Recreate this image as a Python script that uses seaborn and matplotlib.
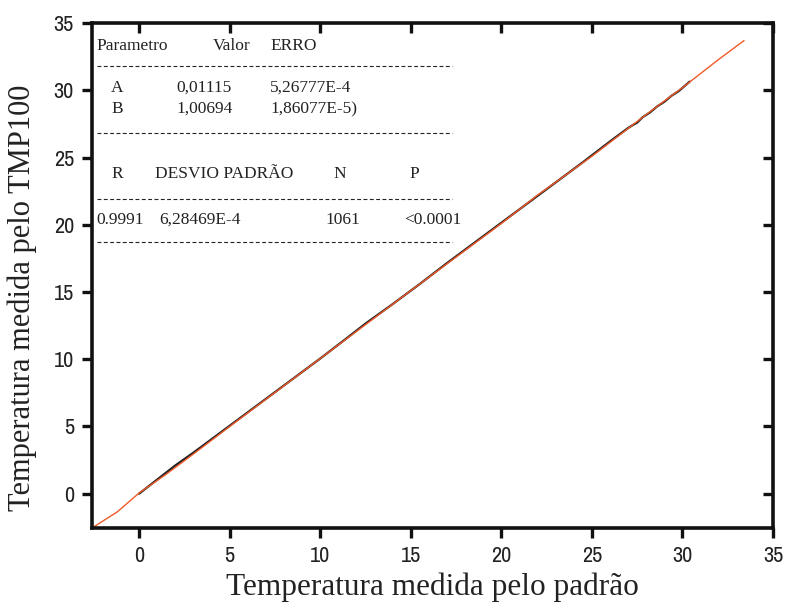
import numpy as np
import pandas as pd
import seaborn as sns
import matplotlib
matplotlib.use('Agg')
import matplotlib.pyplot as plt
from matplotlib import font_manager

medida_x = [0.0, 1.0, 2.0, 3.0, 4.0, 5.0, 6.5, 8.0, 10.0, 11.5, 12.5, 14.0, 15.5,
            17.0, 18.5, 20.0, 21.5, 23.0, 24.5, 26.0, 27.0, 27.3, 27.5, 27.8, 28.2,
            28.6, 29.0, 29.4, 29.8, 30.1, 30.4]
medida_y = [0.0, 1.05, 2.1, 3.05, 4.05, 5.05, 6.55, 8.05, 10.05, 11.6, 12.65, 14.1, 15.6,
            17.15, 18.65, 20.15, 21.65, 23.15, 24.65, 26.2, 27.2, 27.45, 27.6, 28.0, 28.35,
            28.8, 29.15, 29.6, 29.95, 30.3, 30.65]
ajuste_x = [-2.6, -1.2, 0.0, 1.5, 3.0, 5.0, 10.0, 15.0, 20.0, 22.0, 25.0, 28.0, 30.0, 32.0, 33.4]
ajuste_y = [-2.55, -1.35, 0.05, 1.45, 2.95, 5.0, 10.05, 15.1, 20.1, 22.2, 25.1, 28.2, 30.2, 32.3, 33.7]

xticks = [0, 5, 10, 15, 20, 25, 30, 35]
yticks = [0, 5, 10, 15, 20, 25, 30, 35]

sns.set_style("ticks")
serif = "Liberation Serif"
names = {f.name for f in font_manager.fontManager.ttflist}
tick_font = "Liberation Sans"
for cand in ["Liberation Sans Narrow", "Archivo Narrow", "Liberation Sans"]:
    if cand in names:
        tick_font = cand
        break
plt.rcParams['font.family'] = [serif, 'DejaVu Serif']

fig = plt.figure(figsize=(7.86, 6.08), dpi=100)
ax = fig.add_axes([0.117, 0.1316, 0.8665, 0.8304])

dados = pd.DataFrame({"x": medida_x, "y": medida_y})
fit = pd.DataFrame({"x": ajuste_x, "y": ajuste_y})
sns.lineplot(data=dados, x="x", y="y", ax=ax, color="#222222", linewidth=1.6,
             sort=False, estimator=None)
sns.lineplot(data=fit, x="x", y="y", ax=ax, color="#f05a28", linewidth=1.0,
             sort=False, estimator=None)

ax.set_xlim(-2.6, 35)
ax.set_ylim(-2.55, 35)
ax.set_xticks(xticks)
ax.set_yticks(yticks)
for s in ax.spines.values():
    s.set_visible(True)
    s.set_linewidth(2.6)
    s.set_color("#111111")
ax.tick_params(direction='out', length=7, width=2.4, color="#111111",
               labelsize=16, pad=6)
for lab in ax.get_xticklabels() + ax.get_yticklabels():
    lab.set_family(tick_font)
    lab.set_color("#222222")

top = ax.secondary_xaxis('top')
top.set_xticks(xticks)
top.tick_params(direction='in', length=7, width=2.4, labeltop=False, color="#111111")
right = ax.secondary_yaxis('right')
right.set_yticks(yticks)
right.tick_params(direction='in', length=7, width=2.4, labelright=False, color="#111111")

ax.set_xlabel("Temperatura medida pelo padrão", fontsize=22.5, color="#222222", labelpad=5)
ax.set_ylabel("Temperatura medida pelo TMP100", fontsize=22, color="#222222")
ax.yaxis.set_label_coords(-0.08, 0.455)

# results table drawn inside the plot
tr = ax.transAxes
def px(x, y):
    return (x - 92) / 681, (528 - y) / 505

linhas = [
    [(96, "Parametro"), (213, "Valor"), (270, "ERRO")],
    [(111, "A"), (176, "0,01115"), (270, "5,26777E-4")],
    [(111, "B"), (176, "1,00694"), (270, "1,86077E-5)")],
    [(111, "R"), (155, "DESVIO PADRÃO"), (333, "N"), (409, "P")],
    [(96, "0.9991"), (159, "6,28469E-4"), (325, "1061"), (404, "<0.0001")],
]
linhas_y = [46, 88, 109, 174, 220]
for row, yy in zip(linhas, linhas_y):
    for xx, txt in row:
        ax.text(*px(xx, yy), txt, transform=tr, fontsize=12.5, color="#222222",
                ha="left", va="center")
for yy in [66, 133, 199, 242]:
    x0, y0 = px(97, yy)
    x1, _ = px(452, yy)
    ax.plot([x0, x1], [y0, y0], transform=tr, color="#222222", linewidth=0.8,
            linestyle=(0, (3.5, 2.2)))

fig.savefig("out.png", dpi=100)
